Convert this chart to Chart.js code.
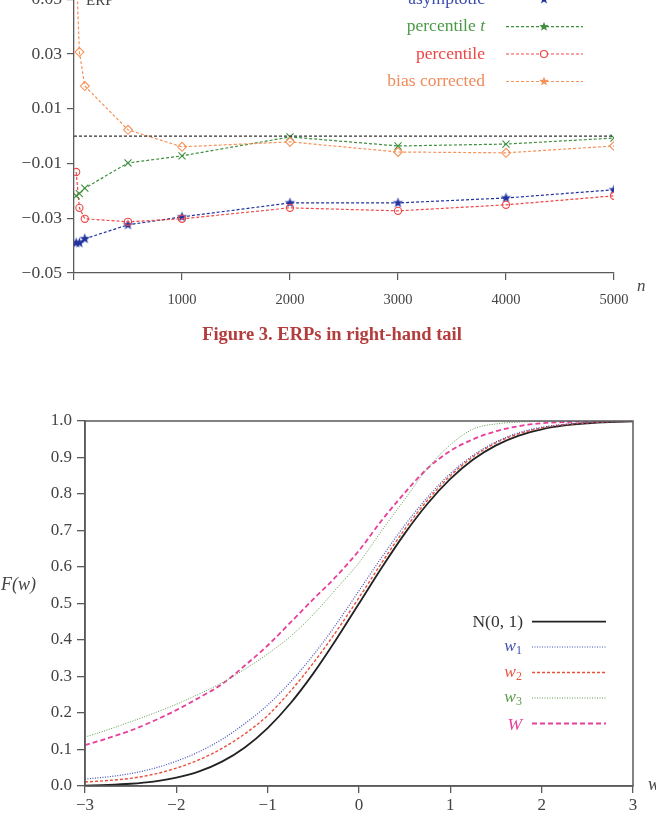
<!DOCTYPE html>
<html><head><meta charset="utf-8">
<script src="https://cdn.jsdelivr.net/npm/chart.js@4/dist/chart.umd.min.js"></script>
<style>
html,body{margin:0;padding:0;background:#fff;width:656px;height:824px;overflow:hidden;}
body{position:relative;font-family:'Liberation Serif',serif;}
#c1{position:absolute;left:0;top:-30px;}
#c2{position:absolute;left:0;top:380px;}
#ov{position:absolute;left:0;top:0;pointer-events:none;}
</style></head><body>
<canvas id="c1" width="656" height="340"></canvas>
<canvas id="c2" width="656" height="444"></canvas>
<svg id="ov" width="656" height="824" xmlns="http://www.w3.org/2000/svg" font-family="'Liberation Serif', serif">
  <!-- top chart labels -->
  <text x="86" y="5" font-size="15" fill="#444">ERP</text>
  <text x="637" y="291" font-size="17" font-style="italic" fill="#444">n</text>
  <!-- top legend -->
  <text x="485" y="3.5" font-size="17.5" text-anchor="end" fill="#3a4cb0">asymptotic</text>
  <text x="485" y="31" font-size="17.5" text-anchor="end" fill="#4a9a45">percentile <tspan font-style="italic">t</tspan></text>
  <text x="485" y="58.5" font-size="17.5" text-anchor="end" fill="#ee4545">percentile</text>
  <text x="485" y="86" font-size="17.5" text-anchor="end" fill="#f08a5a">bias corrected</text>
  <g stroke-width="1.2" stroke-dasharray="3,2" fill="none">
    <line x1="506" y1="-0.5" x2="583" y2="-0.5" stroke="#2233a0"/>
    <line x1="506" y1="26.7" x2="583" y2="26.7" stroke="#3f8f3f"/>
    <line x1="506" y1="54" x2="583" y2="54" stroke="#f04848"/>
    <line x1="506" y1="81.5" x2="583" y2="81.5" stroke="#f5935a"/>
  </g>
  <polygon id="st1" fill="#2233a0" points=""/>
  <polygon id="st2" fill="#3f8f3f" points=""/>
  <circle cx="544" cy="54" r="3.5" fill="#fff" stroke="#f04848" stroke-width="1.2"/>
  <polygon id="st4" fill="#f5935a" points=""/>
  <!-- caption -->
  <text x="332" y="340" font-size="18.5" font-weight="bold" text-anchor="middle" fill="#b33c3c">Figure 3.  ERPs in right-hand tail</text>
  <!-- bottom chart labels -->
  <text x="1" y="590" font-size="18" font-style="italic" fill="#444">F(w)</text>
  <text x="648" y="790" font-size="18" font-style="italic" fill="#444">w</text>
  <!-- bottom legend -->
  <text x="523" y="627" font-size="17.5" text-anchor="end" fill="#333">N(0, 1)</text>
  <text x="522" y="651" font-size="17.5" text-anchor="end" fill="#4050b0"><tspan font-style="italic">w</tspan><tspan font-size="12" dy="3">1</tspan></text>
  <text x="522" y="676.5" font-size="17.5" text-anchor="end" fill="#e8553e"><tspan font-style="italic">w</tspan><tspan font-size="12" dy="3">2</tspan></text>
  <text x="522" y="702" font-size="17.5" text-anchor="end" fill="#5a9a4a"><tspan font-style="italic">w</tspan><tspan font-size="12" dy="3">3</tspan></text>
  <text x="522" y="729.5" font-size="17.5" font-style="italic" text-anchor="end" fill="#e8409a">W</text>
  <line x1="532" y1="621.7" x2="606" y2="621.7" stroke="#222" stroke-width="1.8"/>
  <line x1="532" y1="647" x2="606" y2="647" stroke="#4050b8" stroke-width="1.2" stroke-dasharray="1,1.5"/>
  <line x1="532" y1="672.5" x2="606" y2="672.5" stroke="#e8503a" stroke-width="1.4" stroke-dasharray="3,2"/>
  <line x1="532" y1="698" x2="606" y2="698" stroke="#5a9a4a" stroke-width="1" stroke-dasharray="1,1.5"/>
  <line x1="532" y1="723.5" x2="606" y2="723.5" stroke="#e8409a" stroke-width="1.8" stroke-dasharray="5,3"/>
</svg>
<script>
// ---------- Top chart data (ERPs in right-hand tail) ----------
const nValues          = [20, 50, 100, 500, 1000, 2000, 3000, 4000, 5000];
const erpAsymptotic    = [-0.0390, -0.0390, -0.0375, -0.0324, -0.0295, -0.0244, -0.0244, -0.0226, -0.0196];
const erpPercentileT   = [-0.0218, -0.0210, -0.0190, -0.0098, -0.0072, -0.0003, -0.0036, -0.0029, -0.0007];
const erpPercentile    = [-0.0131, -0.0262, -0.0302, -0.0313, -0.0302, -0.0262, -0.0273, -0.0251, -0.0218];
const erpBiasCorrected = [0.0620, 0.0307, 0.0183, 0.0023, -0.0039, -0.0021, -0.0058, -0.0061, -0.0036];
const zeroLineN   = [0, 5000];
const zeroLineErp = [0, 0];
const topXTicks      = [0, 1000, 2000, 3000, 4000, 5000];
const topXTickLabels = ['', '1000', '2000', '3000', '4000', '5000'];
const topYTicks      = [-0.05, -0.03, -0.01, 0.01, 0.03, 0.05];
const topYTickLabels = ['\u22120.05', '\u22120.03', '\u22120.01', '0.01', '0.03', '0.05'];

// ---------- Bottom chart data (CDFs) ----------
const wGrid = [-3, -2.75, -2.5, -2.25, -2, -1.75, -1.5, -1.25, -1, -0.75, -0.5, -0.25, 0,
               0.25, 0.5, 0.75, 1, 1.25, 1.5, 1.75, 2, 2.25, 2.5, 2.75, 3];
const cdfNormal = [0.0013, 0.0030, 0.0062, 0.0122, 0.0228, 0.0401, 0.0668, 0.1056, 0.1587, 0.2266, 0.3085, 0.4013, 0.5000,
                   0.5987, 0.6915, 0.7734, 0.8413, 0.8944, 0.9332, 0.9599, 0.9772, 0.9878, 0.9938, 0.9970, 0.9987];
const cdfW1 = [0.019, 0.025, 0.034, 0.048, 0.068, 0.094, 0.128, 0.171, 0.222, 0.285, 0.359, 0.443, 0.535,
               0.627, 0.714, 0.791, 0.856, 0.906, 0.943, 0.968, 0.983, 0.991, 0.996, 0.998, 0.999];
const cdfW2 = [0.011, 0.015, 0.021, 0.032, 0.049, 0.072, 0.103, 0.143, 0.193, 0.260, 0.337, 0.423, 0.516,
               0.612, 0.703, 0.783, 0.850, 0.902, 0.940, 0.965, 0.981, 0.990, 0.995, 0.998, 0.999];
const cdfW3 = [0.134, 0.154, 0.176, 0.199, 0.224, 0.252, 0.283, 0.320, 0.362, 0.410, 0.470, 0.540, 0.612,
               0.700, 0.785, 0.870, 0.935, 0.978, 0.992, 0.997, 0.999, 1.000, 1.000, 1.000, 1.000];
const cdfWBig = [0.112, 0.131, 0.152, 0.178, 0.208, 0.242, 0.279, 0.330, 0.385, 0.448, 0.512, 0.574, 0.645,
                 0.728, 0.803, 0.870, 0.918, 0.950, 0.972, 0.986, 0.994, 0.997, 0.999, 1.000, 1.000];
const botXTicks      = [-3, -2, -1, 0, 1, 2, 3];
const botXTickLabels = ['\u22123', '\u22122', '\u22121', '0', '1', '2', '3'];
const botYTicks      = [0, 0.1, 0.2, 0.3, 0.4, 0.5, 0.6, 0.7, 0.8, 0.9, 1.0];
const botYTickLabels = ['0.0', '0.1', '0.2', '0.3', '0.4', '0.5', '0.6', '0.7', '0.8', '0.9', '1.0'];

// ---------- helpers ----------
Chart.defaults.font.family = "'Liberation Serif', serif";
Chart.defaults.color = '#444';
const AX = '#5a5a5a';

function starPoints(cx, cy, r) {
  const p = [];
  for (let k = 0; k < 10; k++) {
    const a = -Math.PI / 2 + k * Math.PI / 5;
    const rr = k % 2 ? r * 0.42 : r;
    p.push((cx + rr * Math.cos(a)).toFixed(2) + ',' + (cy + rr * Math.sin(a)).toFixed(2));
  }
  return p.join(' ');
}
function makeStar(color, r) {
  const c = document.createElement('canvas');
  const s = Math.ceil(r * 2 + 2);
  c.width = s; c.height = s;
  const g = c.getContext('2d');
  g.fillStyle = color;
  g.beginPath();
  for (let k = 0; k < 10; k++) {
    const a = -Math.PI / 2 + k * Math.PI / 5;
    const rr = k % 2 ? r * 0.42 : r;
    g.lineTo(s / 2 + rr * Math.cos(a), s / 2 + rr * Math.sin(a));
  }
  g.closePath(); g.fill();
  return c;
}
document.getElementById('st1').setAttribute('points', starPoints(544, -0.5, 5));
document.getElementById('st2').setAttribute('points', starPoints(544, 26.7, 5));
document.getElementById('st4').setAttribute('points', starPoints(544, 81.5, 5));

const pts = (xs, ys) => xs.map((x, i) => ({ x: x, y: ys[i] }));
const setTicks = arr => s => { s.ticks = arr.map(v => ({ value: v })); };

// ---------- Top chart ----------
const dashTop = [3, 2];
new Chart(document.getElementById('c1'), {
  type: 'line',
  data: {
    datasets: [
      { data: pts(zeroLineN, zeroLineErp), borderColor: '#333', borderWidth: 1.1, borderDash: [3, 2], pointRadius: 0 },
      { data: pts(nValues, erpBiasCorrected), borderColor: '#f5935a', borderWidth: 1.2, borderDash: dashTop,
        pointStyle: 'rectRot', pointRadius: 4.5, pointBorderColor: '#f5935a', pointBackgroundColor: 'rgba(255,255,255,0)', pointBorderWidth: 1.1 },
      { data: pts(nValues, erpPercentileT), borderColor: '#3f8f3f', borderWidth: 1.2, borderDash: dashTop,
        pointStyle: 'crossRot', pointRadius: 5, pointBorderColor: '#3f8f3f', pointBorderWidth: 1.1 },
      { data: pts(nValues, erpPercentile), borderColor: '#f04848', borderWidth: 1.2, borderDash: dashTop,
        pointStyle: 'circle', pointRadius: 3.6, pointBorderColor: '#f04848', pointBackgroundColor: 'rgba(255,255,255,0)', pointBorderWidth: 1.1 },
      { data: pts(nValues, erpAsymptotic), borderColor: '#2233a0', borderWidth: 1.2, borderDash: dashTop,
        pointStyle: makeStar('#2233a0', 5.5), pointRadius: 5 }
    ]
  },
  options: {
    responsive: false, animation: false, events: [],
    layout: { padding: { top: 29.25, right: 42, left: 0, bottom: 0 } },
    plugins: { legend: { display: false }, tooltip: { enabled: false } },
    elements: { line: { tension: 0, fill: false } },
    scales: {
      x: {
        type: 'linear', min: 0, max: 5000,
        afterBuildTicks: setTicks(topXTicks),
        afterFit: s => { s.height = 37; },
        ticks: { callback: (v, i) => topXTickLabels[i], font: { size: 14.5 }, color: '#444', padding: 11, maxRotation: 0, autoSkip: false },
        grid: { display: true, drawOnChartArea: false, drawTicks: true, tickLength: 7, color: AX, lineWidth: 1.2 },
        border: { display: true, color: AX, width: 1.3 }
      },
      y: {
        type: 'linear', min: -0.05, max: 0.05,
        afterBuildTicks: setTicks(topYTicks),
        afterFit: s => { s.width = 74; },
        ticks: { callback: (v, i) => topYTickLabels[i], font: { size: 17.5 }, color: '#444', padding: 5, autoSkip: false },
        grid: { display: true, drawOnChartArea: false, drawTicks: true, tickLength: 7, color: AX, lineWidth: 1.2 },
        border: { display: true, color: AX, width: 1.3 }
      }
    }
  }
});

// ---------- Bottom chart ----------
const boxPlugin = {
  id: 'box',
  afterDraw(chart) {
    const a = chart.chartArea, g = chart.ctx;
    g.save(); g.strokeStyle = AX; g.lineWidth = 1.5;
    g.strokeRect(a.left, a.top, a.right - a.left, a.bottom - a.top);
    g.restore();
  }
};
new Chart(document.getElementById('c2'), {
  type: 'line',
  data: {
    datasets: [
      { data: pts(wGrid, cdfW3), borderColor: '#5a9a4a', borderWidth: 1, borderDash: [1, 1.5] },
      { data: pts(wGrid, cdfW1), borderColor: '#4050b8', borderWidth: 1.2, borderDash: [1, 1.5] },
      { data: pts(wGrid, cdfW2), borderColor: '#e8503a', borderWidth: 1.4, borderDash: [3, 2] },
      { data: pts(wGrid, cdfWBig), borderColor: '#e8409a', borderWidth: 1.8, borderDash: [5, 3] },
      { data: pts(wGrid, cdfNormal), borderColor: '#222', borderWidth: 1.8 }
    ]
  },
  options: {
    responsive: false, animation: false, events: [],
    layout: { padding: { top: 41, right: 23, left: 0, bottom: 0 } },
    plugins: { legend: { display: false }, tooltip: { enabled: false } },
    elements: { point: { radius: 0 }, line: { cubicInterpolationMode: 'monotone', fill: false } },
    scales: {
      x: {
        type: 'linear', min: -3, max: 3,
        afterBuildTicks: setTicks(botXTicks),
        afterFit: s => { s.height = 38; },
        ticks: { callback: (v, i) => botXTickLabels[i], font: { size: 17 }, color: '#444', padding: 2, maxRotation: 0, autoSkip: false },
        grid: { display: true, drawOnChartArea: false, drawTicks: true, tickLength: 7, color: AX, lineWidth: 1.3 },
        border: { display: true, color: AX, width: 1.5 }
      },
      y: {
        type: 'linear', min: 0, max: 1,
        afterBuildTicks: setTicks(botYTicks),
        afterFit: s => { s.width = 85; },
        ticks: { callback: (v, i) => botYTickLabels[i], font: { size: 17 }, color: '#444', padding: 5, autoSkip: false },
        grid: { display: true, drawOnChartArea: false, drawTicks: true, tickLength: 8, color: AX, lineWidth: 1.3 },
        border: { display: true, color: AX, width: 1.5 }
      }
    }
  },
  plugins: [boxPlugin]
});
</script>
</body></html>
